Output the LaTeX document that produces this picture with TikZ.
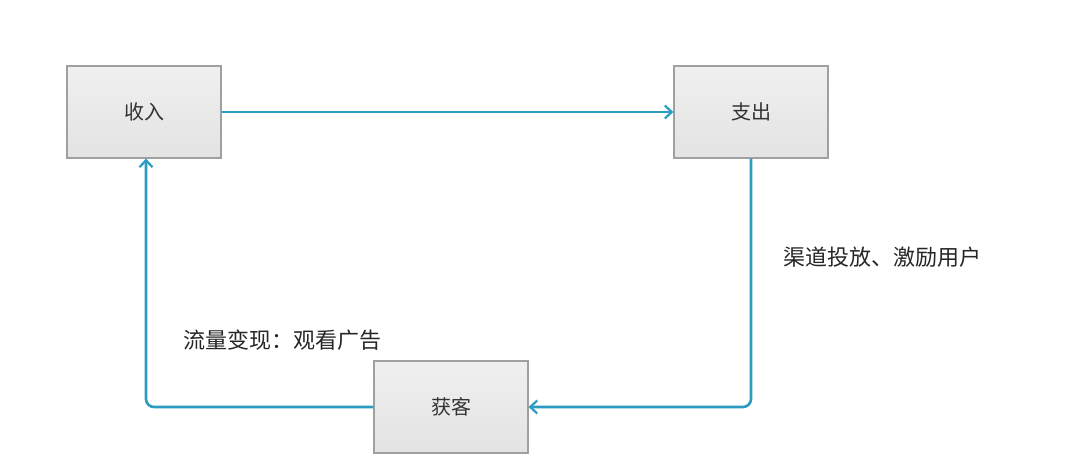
\documentclass[tikz,border=0pt]{standalone}
\usepackage{fontspec}
\newfontfamily\cjk{Noto Sans CJK SC}
\usetikzlibrary{arrows.meta}
\definecolor{flow}{HTML}{2A9CC2}
\definecolor{boxline}{HTML}{A0A0A0}
\tikzset{
  box/.style={draw=boxline, line width=1.2pt, top color=white!94!black, bottom color=white!89!black,
    minimum width=154pt, minimum height=92pt, inner sep=0pt, font=\cjk\fontsize{20}{24}\selectfont, text=black!80},
  conn/.style={draw=flow, line width=2.6pt, rounded corners=8pt, -{Straight Barb[length=7pt,width=13pt,line width=2.2pt]}},
  lbl/.style={font=\cjk\fontsize{22}{26}\selectfont, text=black!85, inner sep=0pt}
}
\begin{document}
\begin{tikzpicture}[x=1pt,y=-1pt]
\useasboundingbox (0,0) rectangle (1080,461);
\node[box] (in) at (144,112) {收入};
\node[box] (out) at (751,112) {支出};
\node[box] (get) at (451,407) {获客};
\coordinate (c1) at (751,407);
\coordinate (c2) at (146,407);
\draw[conn] (in.east) -- (out.west);
\draw[conn] (out.south) -- (c1) -- (get.east);
\draw[conn] (get.west) -- (c2) -- (in.south -| c2);
\node[lbl, anchor=west] (l1) at (783,257) {渠道投放、激励用户};
\node[lbl, anchor=west] (l2) at (183,340) {流量变现：观看广告};
\end{tikzpicture}
\end{document}
